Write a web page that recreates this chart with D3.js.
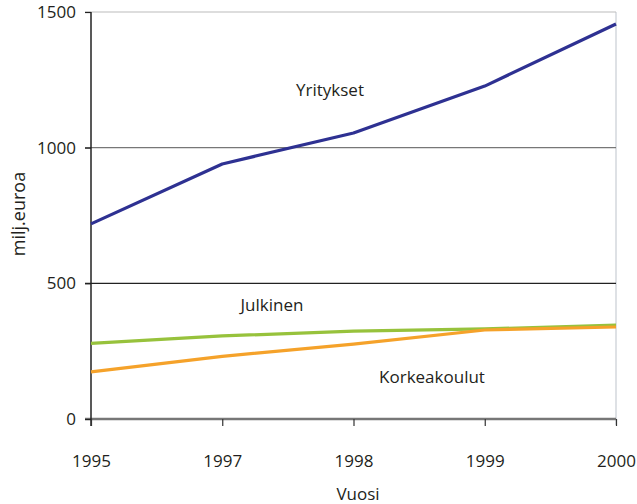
<!DOCTYPE html>
<html><head><meta charset="utf-8">
<script src="https://cdn.jsdelivr.net/npm/d3@7"></script>
<style>body{margin:0;background:#fff;}svg{display:block;}text{font-family:"Open Sans",sans-serif;fill:#231f20;}</style>
</head><body>
<svg id="c" width="637" height="504"></svg>
<script>
const years = ["1995","1997","1998","1999","2000"];
const yritykset = [719, 940, 1054, 1227, 1456];
const julkinen = [279, 306, 324, 332, 346];
const korkeakoulut = [174, 231, 276, 328, 339];
const yTicks = [0, 500, 1000, 1500];
const seriesNames = ["Yritykset", "Julkinen", "Korkeakoulut"];
const seriesColors = ["#2e3192", "#97c23c", "#f5a22a"];

const svg = d3.select("#c");
const x = d3.scalePoint().domain(years).range([91, 616]);
const y = d3.scaleLinear().domain([0, 1500]).range([419, 12]);

// gridlines
const gridStyle = {0: ["#777", 2.5], 500: ["#222", 1.2], 1000: ["#777", 1.2], 1500: ["#bbb", 1.2]};
svg.append("line").attr("x1", 616).attr("x2", 616).attr("y1", 12).attr("y2", 425)
  .attr("stroke", "#d3d7dc").attr("stroke-width", 1.5);
yTicks.forEach(t => {
  svg.append("line").attr("x1", 85).attr("x2", 616).attr("y1", y(t)).attr("y2", y(t))
    .attr("stroke", gridStyle[t][0]).attr("stroke-width", gridStyle[t][1]);
});

// y axis
const yAxis = d3.axisLeft(y).tickValues(yTicks).tickFormat(d3.format("d")).tickSize(6).tickPadding(9);
const ga = svg.append("g").attr("transform", "translate(91,0)").call(yAxis);
ga.select(".domain").remove();
ga.selectAll(".tick line").attr("stroke", "#222").attr("stroke-width", 1.2);
ga.selectAll("text").style("font-size", "17px").attr("fill", "#231f20");
svg.append("line").attr("x1", 91).attr("x2", 91).attr("y1", 12).attr("y2", 426)
  .attr("stroke", "#222").attr("stroke-width", 1.5);

// x axis
const xAxis = d3.axisBottom(x).tickSize(7).tickPadding(29);
const gx = svg.append("g").attr("transform", "translate(0,419)").call(xAxis);
gx.select(".domain").remove();
gx.selectAll(".tick line").attr("stroke", "#333").attr("stroke-width", 1.2);
gx.selectAll("text").style("font-size", "17px").attr("fill", "#231f20");

// lines
const line = d3.line().x((d, i) => x(years[i])).y(d => y(d));
[yritykset, julkinen, korkeakoulut].forEach((s, k) => {
  svg.append("path").datum(s).attr("d", line).attr("fill", "none")
    .attr("stroke", seriesColors[k]).attr("stroke-width", 3.2).attr("stroke-linejoin", "round");
});

// labels
const lab = [[330, 89], [272, 304], [432, 376]];
seriesNames.forEach((n, k) => {
  svg.append("text").attr("x", lab[k][0]).attr("y", lab[k][1]).attr("text-anchor", "middle")
    .attr("dominant-baseline", "central").style("font-size", "17px").text(n);
});
svg.append("text").attr("x", 358).attr("y", 493).attr("text-anchor", "middle")
  .attr("dominant-baseline", "central").style("font-size", "17px").text("Vuosi");
svg.append("text").attr("transform", "translate(18,214) rotate(-90)").attr("text-anchor", "middle")
  .attr("dominant-baseline", "central").style("font-size", "18px").text("milj.euroa");
</script>
</body></html>
